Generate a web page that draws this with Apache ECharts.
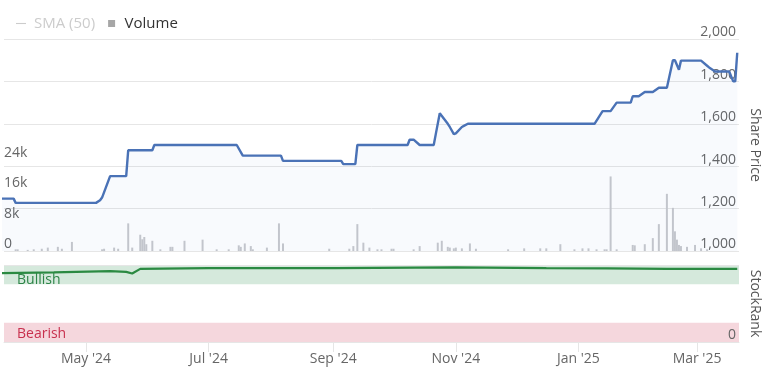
<!DOCTYPE html>
<html>
<head>
<meta charset="utf-8">
<script src="https://cdn.jsdelivr.net/npm/echarts@6/dist/echarts.min.js"></script>
<style>html,body{margin:0;padding:0;background:#fff}#c{width:764px;height:368px}</style>
</head>
<body>
<div id="c"></div>
<script>
// ---- data ----
const priceDates = ['2024-03-20','2024-03-26','2024-03-27','2024-05-06','2024-05-08','2024-05-09','2024-05-13','2024-05-21','2024-05-22','2024-06-03','2024-06-04','2024-07-15','2024-07-18','2024-08-06','2024-08-07','2024-09-05','2024-09-06','2024-09-12','2024-09-13','2024-10-08','2024-10-09','2024-10-11','2024-10-14','2024-10-21','2024-10-22','2024-10-24','2024-10-28','2024-10-29','2024-10-31','2024-11-01','2024-11-04','2024-11-05','2024-11-07','2025-01-09','2025-01-13','2025-01-17','2025-01-20','2025-01-27','2025-01-28','2025-01-31','2025-02-03','2025-02-07','2025-02-10','2025-02-14','2025-02-17','2025-02-18','2025-02-20','2025-02-21','2025-03-03','2025-03-06','2025-03-07','2025-03-10','2025-03-17','2025-03-19','2025-03-20','2025-03-21'];
const priceValues = [1247,1247,1227,1227,1239,1252,1353,1353,1475,1475,1500,1500,1450,1450,1425,1425,1410,1410,1500,1500,1525,1525,1500,1500,1550,1650,1600,1585,1551,1555,1585,1590,1600,1600,1660,1660,1700,1700,1730,1730,1750,1750,1770,1770,1900,1900,1855,1898,1898,1874,1866,1847,1847,1800,1800,1935];

const volumeDates = ['2024-03-27','2024-03-28','2024-04-02','2024-04-05','2024-04-09','2024-04-12','2024-04-17','2024-04-19','2024-04-24','2024-05-09','2024-05-10','2024-05-15','2024-05-17','2024-05-22','2024-05-24','2024-05-28','2024-05-29','2024-05-30','2024-05-31','2024-06-03','2024-06-07','2024-06-12','2024-06-13','2024-06-19','2024-06-28','2024-07-05','2024-07-11','2024-07-16','2024-07-17','2024-07-19','2024-07-22','2024-07-23','2024-07-30','2024-08-05','2024-08-07','2024-08-30','2024-09-09','2024-09-11','2024-09-13','2024-09-16','2024-09-19','2024-09-23','2024-09-25','2024-09-30','2024-10-01','2024-10-11','2024-10-14','2024-10-23','2024-10-25','2024-10-28','2024-10-29','2024-10-31','2024-11-01','2024-11-04','2024-11-08','2024-11-11','2024-11-27','2024-12-05','2024-12-13','2024-12-16','2024-12-23','2024-12-30','2025-01-03','2025-01-06','2025-01-10','2025-01-14','2025-01-15','2025-01-17','2025-01-20','2025-01-28','2025-01-29','2025-02-03','2025-02-07','2025-02-10','2025-02-14','2025-02-17','2025-02-18','2025-02-19','2025-02-20','2025-02-21','2025-02-24','2025-02-28','2025-03-03','2025-03-06'];
const volumeValues = [450,450,300,450,600,900,1100,600,2400,450,600,900,600,7300,900,4300,3100,3700,1800,2700,450,1100,1100,2700,3000,450,450,1500,1100,2000,1300,450,900,7300,2000,600,600,1300,7100,2200,900,450,450,600,600,450,1300,2200,2700,1100,900,700,900,700,2000,600,450,700,700,700,1800,450,700,700,450,450,450,19700,450,1600,1500,1800,3400,7100,15100,11400,5200,3000,1600,1300,1100,1600,700,450];

const rankDates = ['2024-03-20','2024-04-15','2024-05-13','2024-05-21','2024-05-24','2024-05-28','2024-07-01','2024-09-02','2024-11-01','2024-12-16','2025-01-15','2025-02-14','2025-03-21'];
const rankValues = [89.5,90.5,92,91,89,95,96,96,97,96,95.5,95,95];

const tickDates = ['2024-05-01','2024-07-01','2024-09-01','2024-11-01','2025-01-01','2025-03-01'];
const tickLabels = ["May '24","Jul '24","Sep '24","Nov '24","Jan '25","Mar '25"];

const priceTicks = [1000, 2000, 200];   // min, max, step
const volumeTicks = [0, 56000, 8000];  // min, max, step (labels shown up to 24k)
const volumeLabelMax = 24000;

// ---- build ----
const ts = s => new Date(s + 'T00:00:00Z').getTime();
const H = 3600 * 1000;
const xMin = ts('2024-03-21') + 5 * H;
const xMax = ts('2025-03-21') + 21 * H;
const tickTs = tickDates.map(ts);
const priceData = priceDates.map((d, i) => [ts(d), priceValues[i]]);
const volData = volumeDates.map((d, i) => [ts(d), volumeValues[i]]);
const rankData = rankDates.map((d, i) => [ts(d), rankValues[i]]);

const FONT = '"Open Sans", "Noto Sans", sans-serif';
const gridLine = { show: true, lineStyle: { color: '#e6e6e6', width: 1 } };

const chart = echarts.init(document.getElementById('c'), null, { renderer: 'canvas' });
chart.setOption({
  animation: false,
  textStyle: { fontFamily: FONT },
  legend: {
    left: 11, top: 11, itemGap: 13, itemWidth: 10, itemHeight: 7,
    textStyle: { fontSize: 15, color: '#333', fontFamily: FONT, padding: [0, 0, 0, 3] },
    inactiveColor: '#cccccc',
    data: [{ name: 'SMA (50)', icon: 'path://M0,0H12V1.3H0Z' },
           { name: 'Volume', icon: 'path://M0,0H10V10H0Z', itemStyle: { color: '#a6a6a6' } }],
    selected: { 'SMA (50)': false }
  },
  grid: [
    { left: 4, right: 25, top: 39, height: 212, outerBoundsMode: 'none', containLabel: false },
    { left: 4, right: 25, top: 265, height: 77, outerBoundsMode: 'none', containLabel: false }
  ],
  xAxis: [
    { type: 'value', gridIndex: 0, min: xMin, max: xMax, axisLine: { show: false }, axisTick: { show: false }, axisLabel: { show: false }, splitLine: { show: false } },
    { type: 'value', gridIndex: 1, min: xMin, max: xMax,
      axisLine: { show: true, onZero: false, lineStyle: { color: '#e6e6e6' } },
      axisTick: { show: true, length: 10, lineStyle: { color: '#e6e6e6' }, customValues: tickTs },
      axisLabel: { customValues: tickTs, margin: 10, color: '#666', fontSize: 14, fontFamily: FONT,
        formatter: v => { const i = tickTs.indexOf(v); return i >= 0 ? tickLabels[i] : ''; } },
      splitLine: { show: false } }
  ],
  yAxis: [
    { type: 'value', gridIndex: 0, position: 'right', min: priceTicks[0], max: priceTicks[1], interval: priceTicks[2],
      axisLine: { show: false }, axisTick: { show: false }, splitLine: gridLine,
      axisLabel: { inside: true, margin: 3, verticalAlign: 'bottom', lineHeight: 13, color: '#666', fontSize: 14, fontFamily: FONT,
        formatter: v => v.toLocaleString('en-US') },
      name: 'Share Price', nameLocation: 'middle', nameRotate: -90, nameGap: 7,
      nameTextStyle: { color: '#555', fontSize: 14, fontFamily: FONT } },
    { type: 'value', gridIndex: 0, position: 'left', min: volumeTicks[0], max: volumeTicks[1], interval: volumeTicks[2],
      axisLine: { show: false }, axisTick: { show: false }, splitLine: { show: false },
      axisLabel: { inside: true, margin: 0, verticalAlign: 'bottom', color: '#666', fontSize: 14, fontFamily: FONT,
        formatter: v => v > volumeLabelMax ? '' : (v === 0 ? '0' : (v / 1000) + 'k') } },
    { type: 'value', gridIndex: 1, position: 'right', min: 0, max: 100, interval: 100, z: 5,
      axisLine: { show: false }, axisTick: { show: false }, splitLine: gridLine,
      axisLabel: { show: true, showMinLabel: true, inside: true, margin: 3, verticalAlign: 'bottom', color: '#666', fontSize: 14, fontFamily: FONT,
        formatter: v => v === 0 ? '0' : '' },
      name: 'StockRank', nameLocation: 'middle', nameRotate: -90, nameGap: 7,
      nameTextStyle: { color: '#555', fontSize: 14, fontFamily: FONT } }
  ],
  series: [
    { name: 'Volume', type: 'bar', xAxisIndex: 0, yAxisIndex: 1, data: volData, barWidth: 2,
      itemStyle: { color: '#c8c9cd' }, silent: true },
    { name: 'SMA (50)', type: 'line', xAxisIndex: 0, yAxisIndex: 0, data: [], symbol: 'none',
      lineStyle: { width: 1, color: '#999' } },
    { name: 'Share Price', type: 'line', xAxisIndex: 0, yAxisIndex: 0, data: priceData, symbol: 'none',
      lineStyle: { width: 2.4, color: '#4a72b6' }, areaStyle: { color: 'rgba(70,110,190,0.05)' }, clip: true, z: 3 },
    { name: 'StockRank', type: 'line', xAxisIndex: 1, yAxisIndex: 2, data: rankData, symbol: 'none',
      lineStyle: { width: 2.2, color: '#2b8a42' }, clip: true, z: 3,
      markArea: { silent: true, data: [
        [{ name: 'Bullish', yAxis: 75, itemStyle: { color: '#d5e9dc' },
           label: { show: true, position: [13, 8], color: '#2e8548', fontSize: 14, fontFamily: FONT } }, { yAxis: 100 }],
        [{ name: 'Bearish', yAxis: 0, itemStyle: { color: '#f5d7dd' },
           label: { show: true, position: [13, 4], color: '#c8304e', fontSize: 14, fontFamily: FONT } }, { yAxis: 25 }]
      ] } }
  ]
});
</script>
</body>
</html>
